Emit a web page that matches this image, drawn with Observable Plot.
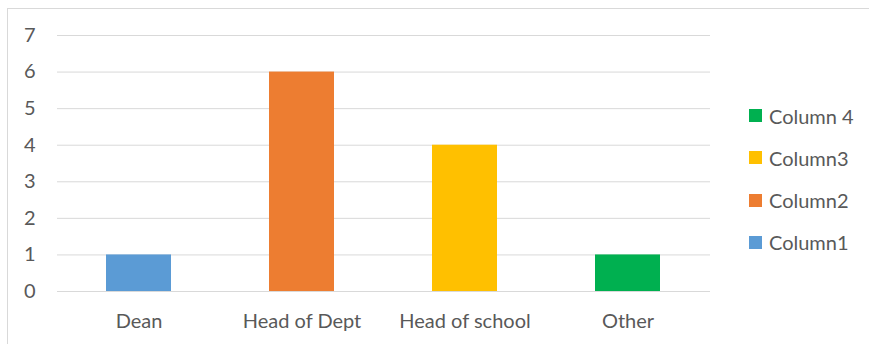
<!DOCTYPE html>
<html>
<head>
<meta charset="utf-8">
<script src="https://cdn.jsdelivr.net/npm/d3@7"></script>
<script src="https://cdn.jsdelivr.net/npm/@observablehq/plot@0.6"></script>
<style>
  body { margin: 0; background: #fff; }
  #wrap { position: relative; width: 869px; height: 344px; overflow: hidden; font-family: Lato, "Open Sans", sans-serif; }
  #frame { position: absolute; left: 7px; top: 8px; width: 900px; height: 400px; border: 1px solid #d9d9d9; box-sizing: border-box; }
  #chart { position: absolute; left: 0; top: 0; }
  #legend { position: absolute; left: 749px; top: 0; }
  .item { position: absolute; left: 0; display: flex; align-items: center; white-space: nowrap; color: #595959; font-size: 20px; }
  .sw { width: 13px; height: 13px; margin-right: 7px; flex: none; }
</style>
</head>
<body>
<div id="wrap">
  <div id="frame"></div>
  <div id="chart"></div>
  <div id="legend"></div>
</div>
<script>
// Roles and counts, one series per role
const categories = ["Dean", "Head of Dept", "Head of school", "Other"];
const values = [1, 6, 4, 1];
const seriesNames = ["Column1", "Column2", "Column3", "Column 4"];
const seriesColors = ["#5B9BD5", "#ED7D31", "#FFC000", "#00B050"];
const yTicks = [0, 1, 2, 3, 4, 5, 6, 7];

const rows = categories.map((c, i) => ({category: c, value: values[i], series: seriesNames[i]}));

const chart = Plot.plot({
  width: 869,
  height: 344,
  marginLeft: 57,
  marginRight: 159,
  marginTop: 35,
  marginBottom: 53,
  style: {fontFamily: "Lato, 'Open Sans', sans-serif", fontSize: "20px", color: "#595959", background: "transparent"},
  x: {domain: categories, paddingInner: 0.6, paddingOuter: 0.3, label: null},
  y: {domain: [0, 7], label: null},
  color: {domain: seriesNames, range: seriesColors},
  marks: [
    Plot.ruleY(yTicks, {stroke: "#d9d9d9", strokeWidth: 1}),
    Plot.barY(rows, {x: "category", y: "value", fill: "series"}),
    Plot.axisX({tickSize: 0, tickPadding: 22, fill: "#595959", fontSize: 20}),
    Plot.axisY({ticks: yTicks, tickFormat: d3.format("d"), tickSize: 0, tickPadding: 22, fill: "#595959", fontSize: 20})
  ]
});
document.getElementById("chart").appendChild(chart);

// Legend listed top-down in reverse series order
const legend = document.getElementById("legend");
const rowCenters = [115.5, 157.5, 200, 242];
seriesNames.slice().reverse().forEach((name, i) => {
  const color = seriesColors[seriesNames.indexOf(name)];
  const item = document.createElement("div");
  item.className = "item";
  item.style.top = (rowCenters[i] - 12) + "px";
  item.style.height = "24px";
  item.innerHTML = `<span class="sw" style="background:${color}"></span><span>${name}</span>`;
  legend.appendChild(item);
});
</script>
</body>
</html>
